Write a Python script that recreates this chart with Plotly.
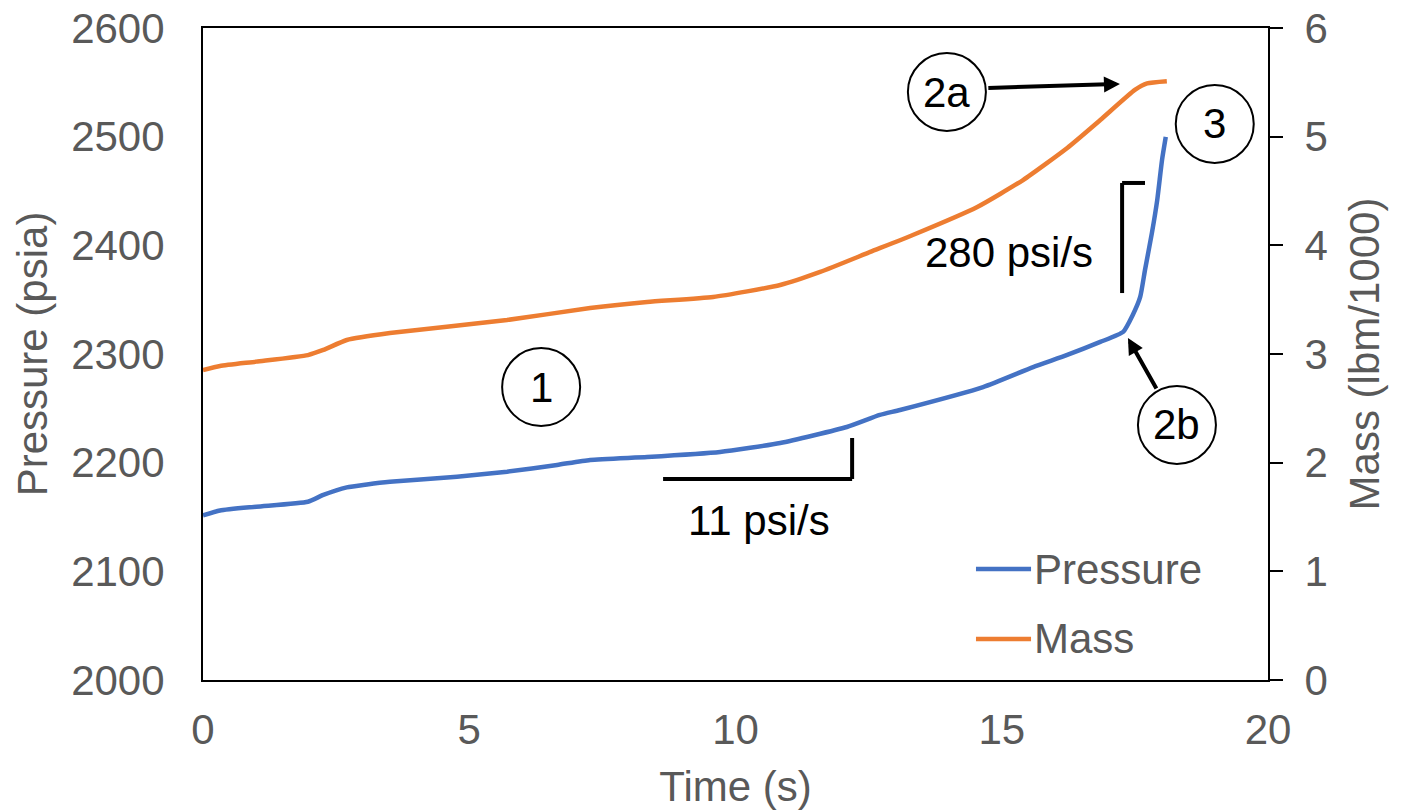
import plotly.graph_objects as go

# ---------------- data ----------------
pressure_time = [0.0, 0.32, 1.0, 1.97, 2.26, 2.70, 3.08, 3.51, 4.77, 5.71, 6.65, 7.27,
                 8.34, 9.71, 10.84, 12.09, 12.71, 13.09, 14.65, 15.59, 16.23, 16.85,
                 17.28, 17.46, 17.60, 17.69, 17.82, 17.92, 18.01, 18.08]
pressure_psia = [2151.5, 2156.0, 2159.5, 2164.0, 2170.3, 2177.3, 2180.0, 2182.5, 2187.1,
                 2191.7, 2197.9, 2202.5, 2205.2, 2209.8, 2218.1, 2232.8, 2243.9, 2248.5,
                 2269.6, 2288.0, 2299.1, 2311.1, 2320.3, 2335.9, 2352.5, 2377.3, 2411.4,
                 2441.7, 2478.5, 2499.7]

mass_time = [0.0, 0.32, 1.0, 1.97, 2.26, 2.70, 3.51, 5.71, 7.27, 8.34, 9.58, 10.84,
             11.59, 12.53, 13.33, 14.54, 15.40, 16.23, 16.85, 17.50, 17.73, 18.10]
mass_klbm = [2.853, 2.89, 2.93, 2.99, 3.037, 3.129, 3.193, 3.313, 3.423, 3.479, 3.525,
             3.635, 3.755, 3.939, 4.095, 4.353, 4.601, 4.896, 5.153, 5.43, 5.49, 5.51]

series_names = ["Pressure", "Mass"]
x_tick_vals = [0, 5, 10, 15, 20]
y_tick_vals = [2000, 2100, 2200, 2300, 2400, 2500, 2600]
y2_tick_vals = [0, 1, 2, 3, 4, 5, 6]

# ---------------- styles ----------------
BLUE = "#4472C4"
ORANGE = "#ED7D31"
GRAY = "#595959"
FONT = "Liberation Sans, Arial, sans-serif"
FS = 42

fig = go.Figure()
fig.add_trace(go.Scatter(x=pressure_time, y=pressure_psia, name=series_names[0],
                         mode="lines", line=dict(color=BLUE, width=4.5, shape="spline",
                                                 smoothing=0.5),
                         yaxis="y", showlegend=False))
fig.add_trace(go.Scatter(x=mass_time, y=mass_klbm, name=series_names[1],
                         mode="lines", line=dict(color=ORANGE, width=4.5, shape="spline",
                                                 smoothing=0.5),
                         yaxis="y2", showlegend=False))

axis_font = dict(family=FONT, size=FS, color=GRAY)

fig.update_layout(
    template="none",
    width=1406, height=810,
    margin=dict(l=203, r=138, t=28, b=130, pad=0),
    paper_bgcolor="white", plot_bgcolor="white",
    font=dict(family=FONT, size=FS, color=GRAY),
    xaxis=dict(range=[0, 20], tickvals=x_tick_vals, showgrid=False, zeroline=False,
               showline=True, linecolor="black", linewidth=2, mirror=True,
               ticks="", tickfont=axis_font, ticklabelstandoff=12, automargin=False,
               ticklabeloverflow="allow",
               title=dict(text="Time (s)", font=axis_font, standoff=20)),
    yaxis=dict(range=[2000, 2600], tickvals=y_tick_vals, showgrid=False, zeroline=False,
               showline=True, linecolor="black", linewidth=2, mirror=True,
               ticks="", tickfont=axis_font, ticklabelstandoff=28, automargin=False,
               ticklabeloverflow="allow",
               title=dict(text="Pressure (psia)", font=axis_font, standoff=10)),
    yaxis2=dict(range=[0, 6], tickvals=y2_tick_vals, overlaying="y", side="right",
                showgrid=False, zeroline=False, showline=True, linecolor="black",
                linewidth=2, ticks="outside", ticklen=13, tickwidth=2, tickcolor="black",
                tickfont=axis_font, ticklabelstandoff=13, automargin=False,
                ticklabeloverflow="allow",
                title=dict(text="Mass (lbm/1000)", font=axis_font, standoff=23)),
    showlegend=False,
)

# ---------------- legend (drawn to match the reference's long key lines) ----------------
legend_rows = [(series_names[0], BLUE, 0.1702), (series_names[1], ORANGE, 0.0629)]
for name, color, yp in legend_rows:
    fig.add_shape(type="line", xref="paper", yref="paper", x0=0.7258, x1=0.7775,
                  y0=yp, y1=yp, line=dict(color=color, width=4.5))
    fig.add_annotation(x=0.7785, y=yp, xref="paper", yref="paper", text=name,
                       showarrow=False, xanchor="left", yanchor="middle",
                       font=dict(family=FONT, size=FS, color=GRAY))

# ---------------- annotation markers (circled labels) ----------------
circles = [("1", 6.35, 2269.6), ("2a", 13.97, 2541.1), ("3", 19.00, 2511.7), ("2b", 18.29, 2234.7)]
R = 39
for label, cx, cy in circles:
    fig.add_shape(type="circle", xref="x", yref="y", xsizemode="pixel", ysizemode="pixel",
                  xanchor=cx, yanchor=cy, x0=-R, x1=R, y0=-R, y1=R,
                  line=dict(color="black", width=2), fillcolor="rgba(0,0,0,0)")
    fig.add_annotation(x=cx, y=cy, xref="x", yref="y", text=label, showarrow=False,
                       font=dict(family=FONT, size=FS, color="black"))

# arrows
fig.add_annotation(x=17.22, y=2548.5, ax=14.72, ay=2544.8, xref="x", yref="y",
                   axref="x", ayref="y", text="", showarrow=True, arrowhead=2,
                   arrowsize=0.8, arrowwidth=4, arrowcolor="black")
fig.add_annotation(x=17.37, y=2314.7, ax=17.92, ay=2266.9, xref="x", yref="y",
                   axref="x", ayref="y", text="", showarrow=True, arrowhead=2,
                   arrowsize=0.8, arrowwidth=4, arrowcolor="black")

# slope brackets
bk = dict(color="black", width=4)
fig.add_shape(type="line", xref="x", yref="y", x0=8.64, x1=12.19, y0=2185.0, y1=2185.0, line=bk)
fig.add_shape(type="line", xref="x", yref="y", x0=12.19, x1=12.19, y0=2185.0, y1=2222.7, line=bk)
fig.add_shape(type="line", xref="x", yref="y", x0=17.26, x1=17.26, y0=2356.1, y1=2457.4, line=bk)
fig.add_shape(type="line", xref="x", yref="y", x0=17.26, x1=17.69, y0=2457.4, y1=2457.4, line=bk)

fig.add_annotation(x=10.44, y=2147.2, xref="x", yref="y", text="11 psi/s", showarrow=False,
                   font=dict(family=FONT, size=FS, color="black"))
fig.add_annotation(x=15.14, y=2393.0, xref="x", yref="y", text="280 psi/s", showarrow=False,
                   font=dict(family=FONT, size=FS, color="black"))

# remove the page's default body margin so the 1406x810 figure fills the window exactly
fig.write_html("out.html", config={"displayModeBar": False},
               post_script="document.body.style.margin='0';document.body.style.overflow='hidden';")
